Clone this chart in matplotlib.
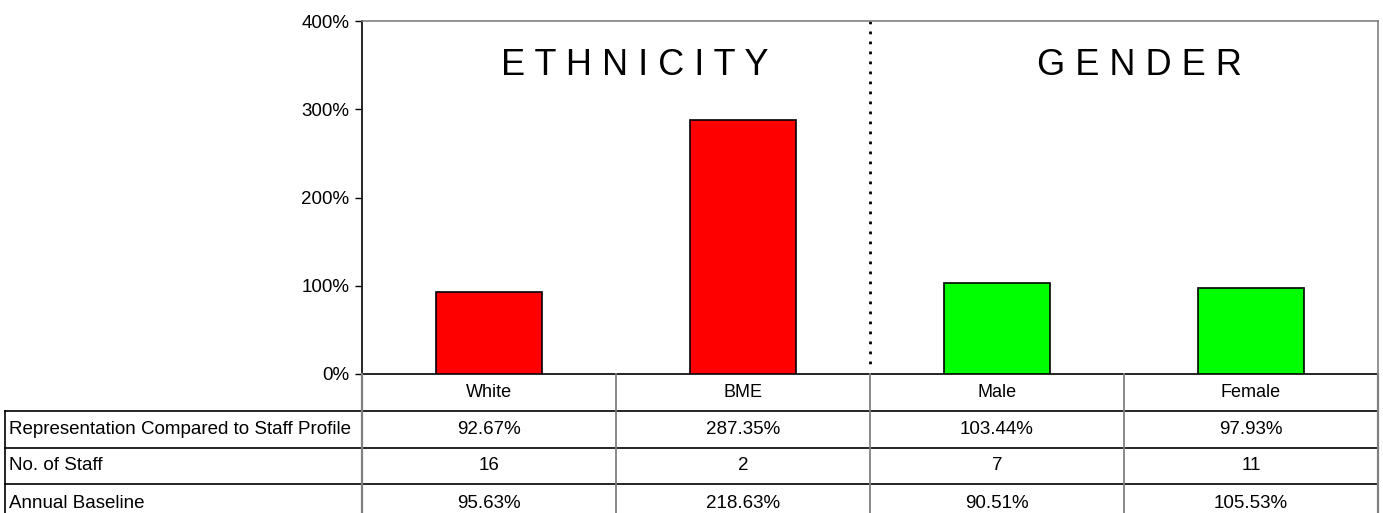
import matplotlib
matplotlib.use("Agg")
import matplotlib.pyplot as plt
from matplotlib.ticker import FuncFormatter

plt.rcParams['font.family'] = ['Liberation Sans', 'DejaVu Sans']

categories = ["White", "BME", "Male", "Female"]
representation = [92.67, 287.35, 103.44, 97.93]
staff_counts = [16, 2, 7, 11]
annual_baseline = [95.63, 218.63, 90.51, 105.53]
bar_colors = ["#ff0000", "#ff0000", "#00ff00", "#00ff00"]
group_titles = ["E T H N I C I T Y", "G E N D E R"]
row_labels = ["Representation Compared to Staff Profile", "No. of Staff", "Annual Baseline"]
y_ticks = [0, 100, 200, 300, 400]

W, H = 1383, 513
fig = plt.figure(figsize=(W / 100, H / 100), dpi=100)

# plot area geometry in pixels
x_left, x_right = 362, 1378
y_top, y_zero = 21, 374

ax = fig.add_axes([x_left / W, 1 - y_zero / H, (x_right - x_left) / W, (y_zero - y_top) / H])
x = list(range(len(categories)))
ax.bar(x, representation, width=0.42, color=bar_colors, edgecolor="black", linewidth=1.2, zorder=3)
ax.set_xlim(-0.5, len(categories) - 0.5)
ax.set_ylim(0, 400)
ax.set_yticks(y_ticks)
ax.yaxis.set_major_formatter(FuncFormatter(lambda v, p: f"{v:.0f}%"))
ax.tick_params(axis="y", direction="out", length=5, width=1, labelsize=13.5, pad=4)
ax.set_xticks([])
for side in ["top", "right"]:
    ax.spines[side].set_color("#808080")
    ax.spines[side].set_linewidth(1.2)
ax.spines["left"].set_linewidth(1.2)
ax.spines["bottom"].set_linewidth(1.2)

# divider between the two groups
ax.plot([1.5, 1.5], [400, 10], color="black", linestyle=(0, (1, 2.6)), linewidth=2.0, zorder=2)
ax.text(0.575, 350, group_titles[0], ha="center", va="center", fontsize=26)
ax.text(2.56, 350, group_titles[1], ha="center", va="center", fontsize=26)

# data table beneath the bars
tab = fig.add_axes([0, 0, 1, 1], facecolor="none")
tab.set_xlim(0, W)
tab.set_ylim(H, 0)
tab.axis("off")

col_edges = [x_left + (x_right - x_left) * i / len(categories) for i in range(len(categories) + 1)]
row_edges = [y_zero, 411, 448, 484, 521]
label_left = 5

# horizontal rules
for y in row_edges[1:-1]:
    tab.plot([label_left, x_right], [y, y], color="black", lw=1.2)
# vertical rules
tab.plot([label_left, label_left], [row_edges[1], H], color="black", lw=1.2)
for xe in col_edges:
    tab.plot([xe, xe], [y_zero, H], color="#808080",
             lw=1.6 if xe in (col_edges[0], col_edges[-1]) else 1.3)

centers = [(col_edges[i] + col_edges[i + 1]) / 2 for i in range(len(categories))]
yh = (row_edges[0] + row_edges[1]) / 2
for cx, name in zip(centers, categories):
    tab.text(cx, yh, name, ha="center", va="center", fontsize=13)

rows = [
    [f"{v:.2f}%" for v in representation],
    [str(v) for v in staff_counts],
    [f"{v:.2f}%" for v in annual_baseline],
]
for r, (label, values) in enumerate(zip(row_labels, rows)):
    yc = (row_edges[r + 1] + row_edges[r + 2]) / 2
    if r == 2:
        yc = row_edges[3] + 19
    tab.text(label_left + 4, yc, label, ha="left", va="center", fontsize=13.5)
    for cx, val in zip(centers, values):
        tab.text(cx, yc, val, ha="center", va="center", fontsize=13.5)

fig.savefig("out.png", dpi=100)
